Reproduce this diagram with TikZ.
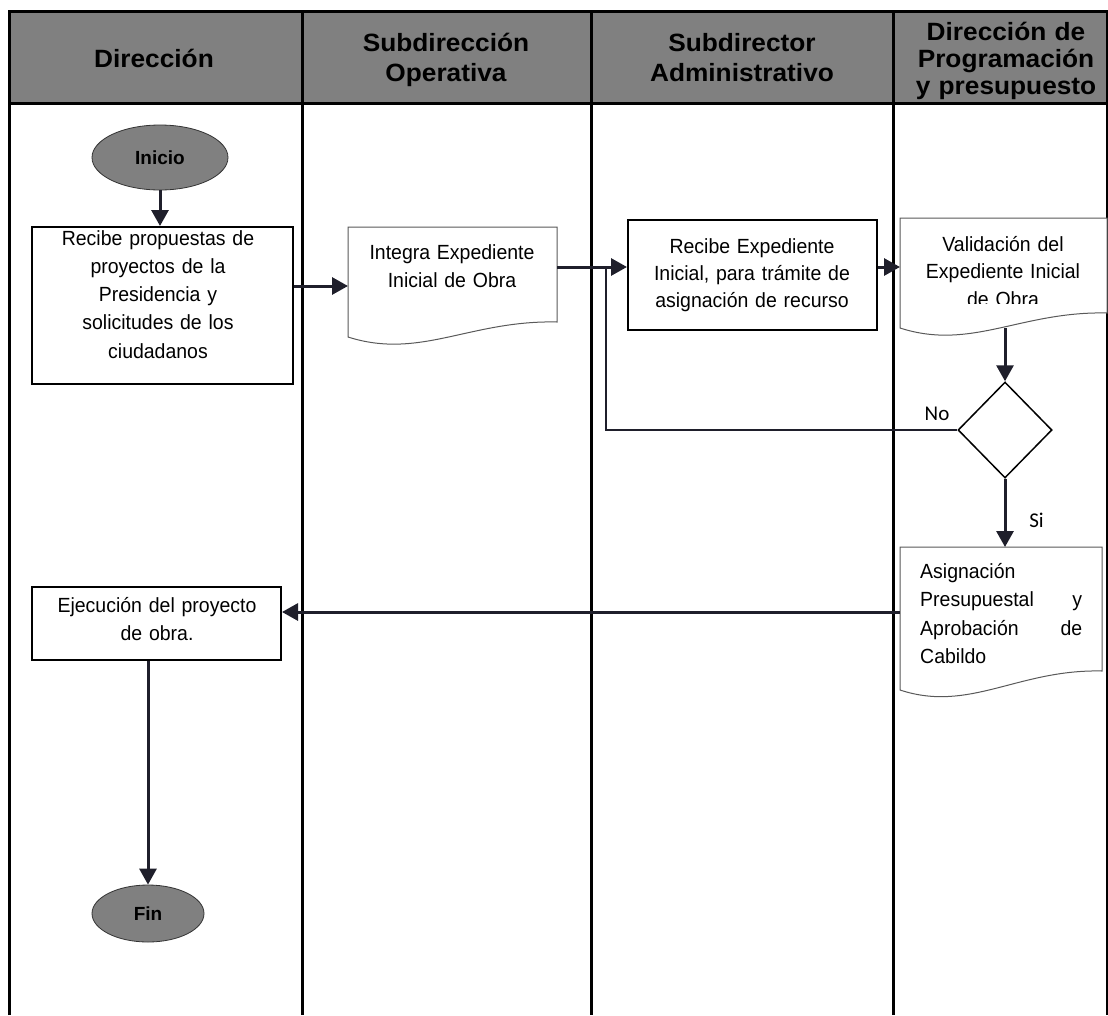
\documentclass[tikz,border=0pt]{standalone}
\usepackage{fontspec}
\setmainfont{Liberation Sans}
\newfontfamily\bodyf[FakeStretch=0.95]{Liberation Sans}
\newfontfamily\hdrf[FakeStretch=1.05]{Liberation Sans}
\newfontfamily\calf{Carlito}
\usetikzlibrary{shapes.geometric,arrows.meta}
\definecolor{hdrgray}{HTML}{808080}
\definecolor{arrc}{HTML}{1F1F2B}
\newcommand\bodysz[1]{\bodyf\fontsize{20.5}{#1}\selectfont}
\newcommand\docshape[6]{%
  \node[anchorbox,minimum width={#4-#2},minimum height={#5-#3}] (#1) at ({(#2+#4)/2},{(#3+#5)/2}) {};
  \draw[docline] (#2,#5) -- (#2,#3) -- (#4,#3) -- (#4,#6)
    .. controls ({#2+0.584*(#4-#2)},{#6-2}) and ({#2+0.344*(#4-#2)},{#5+23}) .. (#2,#5) -- cycle;}
\begin{document}
\begin{tikzpicture}[x=1pt,y=-1pt,
  grid/.style={line width=3pt,black},
  arrow/.style={line width=3pt,draw=arrc,-{Triangle[length=16pt,width=17pt]}},
  loopline/.style={line width=2pt,draw=arrc},
  procbox/.style={rectangle,draw=black,line width=2pt,fill=white,inner sep=0pt},
  terminal/.style={ellipse,draw=black!80,line width=0.8pt,fill=hdrgray,inner sep=0pt,font=\bfseries\fontsize{19}{21}\selectfont},
  decision/.style={diamond,draw=black,line width=1.5pt,fill=white,inner sep=0pt},
  docline/.style={draw=black!65,line width=1pt,fill=white},
  anchorbox/.style={rectangle,inner sep=0pt,outer sep=0pt},
  hdrtxt/.style={font=\hdrf\bfseries\fontsize{25}{30}\selectfont,align=center,inner sep=0pt,anchor=base},
  bodytxt/.style={font=\bodysz{28},align=center,inner sep=0pt,anchor=base},
  lbl/.style={font=\calf\fontsize{21}{24}\selectfont,inner sep=0pt,anchor=base}
]
\useasboundingbox (0,0) rectangle (1108,1015);
% header band and grid
\fill[hdrgray] (9,11) rectangle (1107,103);
\draw[grid] (9,1015) -- (9,11) -- (1107,11) -- (1107,1015);
\draw[grid] (9,103) -- (1107,103);
\draw[grid] (302,11) -- (302,1015);
\draw[grid] (591,11) -- (591,1015);
\draw[grid] (893,11) -- (893,1015);
% header texts
\node[hdrtxt,text width=280pt] (h1) at (154,67) {Dirección};
\node[hdrtxt,text width=280pt] (h2) at (446,51) {Subdirección\\ Operativa};
\node[hdrtxt,text width=280pt] (h3) at (742,51) {Subdirector\\ Administrativo};
\node[hdrtxt,text width=210pt,font=\hdrf\bfseries\fontsize{25}{27}\selectfont] (h4) at (1006,40) {Dirección de\\ Programación\\ y presupuesto};
% shapes
\node[terminal,minimum width=136pt,minimum height=65pt] (inicio) at (160,157.5) {Inicio};
\node[procbox,minimum width=261pt,minimum height=157pt] (recibe1) at (162.5,305.5) {};
\node[bodytxt,text width=250pt,font=\bodysz{28.3}] (t1) at (158,245) {Recibe propuestas de\\ proyectos de la\\ Presidencia y\\ solicitudes de los\\ ciudadanos};
\docshape{integra}{348}{227}{557}{337}{322}
\node[bodytxt,text width=200pt] (t2) at (452,259.5) {Integra Expediente\\ Inicial de Obra};
\node[procbox,minimum width=249pt,minimum height=110pt] (recibe2) at (752.5,275) {};
\node[bodytxt,text width=240pt,font=\bodysz{27}] (t3) at (752,253) {Recibe Expediente\\ Inicial, para trámite de\\ asignación de recurso};
\docshape{valid}{900}{218}{1107}{328}{313}
\begin{scope}
\clip (900,218) rectangle (1107,303.5);
\node[bodytxt,text width=200pt,font=\bodysz{27.5}] (t4) at (1003,251) {Validación del\\ Expediente Inicial\\ de Obra};
\end{scope}
\node[decision,minimum width=94pt,minimum height=96pt] (dec) at (1005,430) {};
\node[lbl] (no) at (937,420) {No};
\node[lbl] (si) at (1036.5,527) {Si};
\docshape{asig}{900}{547}{1102}{690}{671}
\node[bodytxt,align=left,text width=162pt,anchor=base west,font=\bodysz{28.5}] (t5) at (920,578) {Asignación\\ Presupuestal\hfill y\\ Aprobación\hfill de\\ Cabildo};
\node[procbox,minimum width=249pt,minimum height=73pt] (ejec) at (156.5,623.5) {};
\node[bodytxt,text width=240pt] (t6) at (157,612) {Ejecución del proyecto\\ de obra.};
\node[terminal,minimum width=112pt,minimum height=57pt] (fin) at (148,913.5) {Fin};
% connectors
\coordinate (jn) at (606,267);
\draw[arrow] (inicio.south) -- (inicio.south |- recibe1.north);
\draw[arrow] ([yshift=-4pt]integra.west -| recibe1.east) -- ([yshift=-4pt]integra.west);
\draw[arrow] ([yshift=15pt]integra.east) -- ([yshift=15pt]integra.east -| recibe2.west);
\draw[arrow] ([yshift=8pt]recibe2.east) -- ([yshift=8pt]recibe2.east -| valid.west);
\draw[arrow] (dec.north |- valid.south) -- (dec.north);
\draw[loopline] (dec.west) -| (jn);
\draw[arrow] (dec.south) -- (dec.south |- asig.north);
\draw[arrow] ([yshift=6.5pt]asig.west) -- ([yshift=6.5pt]asig.west -| ejec.east);
\draw[arrow] (fin.north |- ejec.south) -- (fin.north);
\end{tikzpicture}
\end{document}
